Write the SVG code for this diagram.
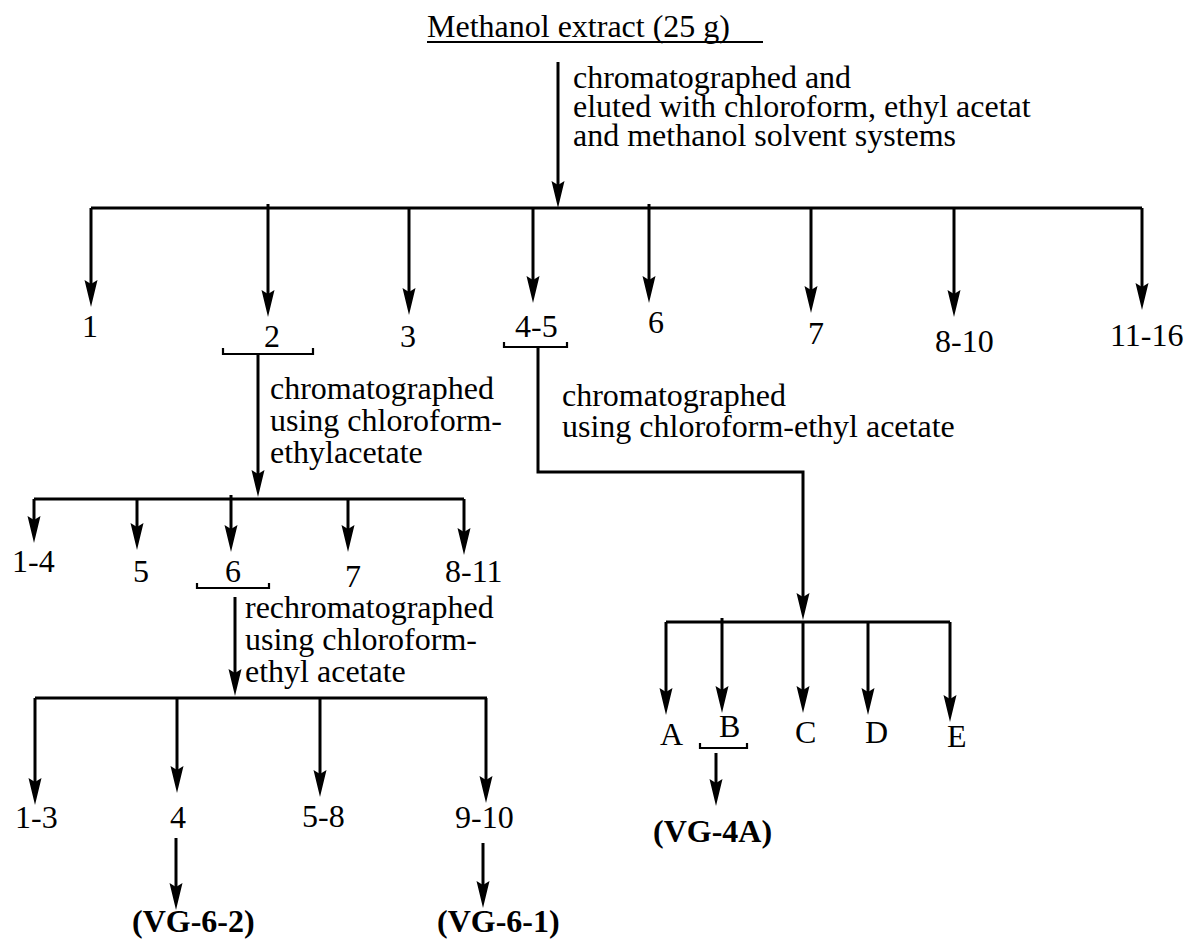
<svg xmlns="http://www.w3.org/2000/svg" width="1188" height="940" viewBox="0 0 1188 940">
<style>
text{font-family:"Liberation Serif","Times New Roman",serif;font-size:32px;fill:#000}
.b{font-weight:bold}
.ln{stroke:#000;stroke-width:3;fill:none}
.ar{stroke:#000;stroke-width:3;fill:none;marker-end:url(#ah)}
.br{stroke:#000;stroke-width:2.2;fill:none}
</style>
<defs>
<marker id="ah" markerWidth="28" markerHeight="14" refX="15" refY="7" orient="auto" markerUnits="userSpaceOnUse">
<path d="M0,0.5 L27,7 L0,13.5 L4,7 Z" fill="#000"/>
</marker>
</defs>
<rect width="1188" height="940" fill="#fff"/>
<g id="connectors">
<line class="ar" x1="558" y1="62" x2="558" y2="196"/>
<line class="ln" x1="91" y1="208" x2="1142" y2="208"/>
<line class="ar" x1="91" y1="208" x2="91" y2="295"/>
<line class="ar" x1="268" y1="204" x2="268" y2="305"/>
<line class="ar" x1="409" y1="208" x2="409" y2="303"/>
<line class="ar" x1="533" y1="208" x2="533" y2="291"/>
<line class="ar" x1="649" y1="204" x2="649" y2="291"/>
<line class="ar" x1="811" y1="208" x2="811" y2="301"/>
<line class="ar" x1="954" y1="208" x2="954" y2="305"/>
<line class="ar" x1="1142" y1="208" x2="1142" y2="298"/>
<line class="ar" x1="258" y1="354" x2="258" y2="485"/>
<line class="ln" x1="34" y1="499" x2="464" y2="499"/>
<line class="ar" x1="34" y1="499" x2="34" y2="531"/>
<line class="ar" x1="137" y1="499" x2="137" y2="538"/>
<line class="ar" x1="231" y1="495" x2="231" y2="540"/>
<line class="ar" x1="348" y1="499" x2="348" y2="540"/>
<line class="ar" x1="464" y1="499" x2="464" y2="543"/>
<line class="ar" x1="235" y1="597" x2="235" y2="684"/>
<line class="ln" x1="35" y1="698" x2="487" y2="698"/>
<line class="ar" x1="35" y1="698" x2="35" y2="793"/>
<line class="ar" x1="177" y1="698" x2="177" y2="781"/>
<line class="ar" x1="320" y1="698" x2="320" y2="785"/>
<line class="ar" x1="486" y1="698" x2="486" y2="791"/>
<line class="ar" x1="176" y1="838" x2="176" y2="898"/>
<line class="ar" x1="483" y1="843" x2="483" y2="896"/>
<polyline class="ar" points="538,347 538,472 803,472 803,608"/>
<line class="ln" x1="666" y1="622" x2="950" y2="622"/>
<line class="ar" x1="666" y1="622" x2="666" y2="703"/>
<line class="ar" x1="722" y1="618" x2="722" y2="701"/>
<line class="ar" x1="803" y1="622" x2="803" y2="701"/>
<line class="ar" x1="868" y1="622" x2="868" y2="703"/>
<line class="ar" x1="950" y1="622" x2="950" y2="710"/>
<line class="ar" x1="716" y1="753" x2="716" y2="794"/>
</g>
<g id="n-root">
<text x="427" y="37">Methanol extract (25 g)</text>
<line class="br" x1="427" y1="42" x2="763" y2="42"/>
</g>
<g id="lbl-step1">
<text x="573" y="88">chromatographed and</text>
<text x="573" y="117">eluted with chloroform, ethyl acetat</text>
<text x="573" y="146">and methanol solvent systems</text>
</g>
<g id="f1"><text x="82" y="337">1</text></g>
<g id="f2"><text x="264" y="347">2</text><polyline class="br" points="223,348 223,354 313,354 313,348"/></g>
<g id="f3"><text x="400" y="347">3</text></g>
<g id="f45"><text x="515" y="337">4-5</text><polyline class="br" points="504,342 504,347 567,347 567,342"/></g>
<g id="f6"><text x="648" y="333">6</text></g>
<g id="f7"><text x="808" y="344">7</text></g>
<g id="f810"><text x="935" y="352">8-10</text></g>
<g id="f1116"><text x="1110" y="346">11-16</text></g>
<g id="lbl-step2">
<text x="270" y="399">chromatographed</text>
<text x="270" y="431">using chloroform-</text>
<text x="270" y="463">ethylacetate</text>
</g>
<g id="lbl-step45">
<text x="562" y="406">chromatographed</text>
<text x="562" y="437">using chloroform-ethyl acetate</text>
</g>
<g id="s1-4"><text x="12" y="572">1-4</text></g>
<g id="s5"><text x="133" y="582">5</text></g>
<g id="s6"><text x="225" y="582">6</text><polyline class="br" points="197,583 197,588 269,588 269,583"/></g>
<g id="s7"><text x="345" y="587">7</text></g>
<g id="s8-11"><text x="445" y="582">8-11</text></g>
<g id="lbl-step6">
<text x="245" y="618">rechromatographed</text>
<text x="245" y="650">using chloroform-</text>
<text x="245" y="682">ethyl acetate</text>
</g>
<g id="t1-3"><text x="15" y="828">1-3</text></g>
<g id="t4"><text x="170" y="828">4</text></g>
<g id="t5-8"><text x="302" y="827">5-8</text></g>
<g id="t9-10"><text x="455" y="828">9-10</text></g>
<g id="vg62"><text class="b" x="132" y="932">(VG-6-2)</text></g>
<g id="vg61"><text class="b" x="437" y="932">(VG-6-1)</text></g>
<g id="uA"><text x="660" y="745">A</text></g>
<g id="uB"><text x="719" y="737">B</text><polyline class="br" points="700,743 700,748 747,748 747,743"/></g>
<g id="uC"><text x="795" y="743">C</text></g>
<g id="uD"><text x="865" y="743">D</text></g>
<g id="uE"><text x="947" y="747">E</text></g>
<g id="vg4a"><text class="b" x="653" y="842">(VG-4A)</text></g>
</svg>
